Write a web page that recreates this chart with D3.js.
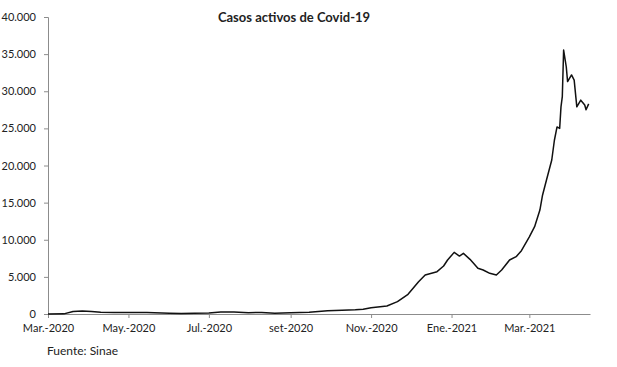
<!DOCTYPE html>
<html>
<head>
<meta charset="utf-8">
<script src="https://cdn.jsdelivr.net/npm/d3@7"></script>
<style>
  body { margin: 0; background: #fff; }
  svg text { font-family: Lato, "Open Sans", sans-serif; fill: #222; }
</style>
</head>
<body>
<script>
// Active cases
const dates = [
  '2020-03-01', '2020-03-13', '2020-03-20', '2020-03-27', '2020-04-03', '2020-04-10',
  '2020-04-20', '2020-05-01', '2020-05-15', '2020-06-01', '2020-06-10', '2020-06-20',
  '2020-07-01', '2020-07-10', '2020-07-20', '2020-07-31', '2020-08-10', '2020-08-20',
  '2020-09-01', '2020-09-15', '2020-09-29', '2020-10-10', '2020-10-20', '2020-10-26',
  '2020-11-01', '2020-11-13', '2020-11-21', '2020-11-29', '2020-12-07', '2020-12-12',
  '2020-12-21', '2020-12-26', '2020-12-29', '2021-01-03', '2021-01-07', '2021-01-10',
  '2021-01-15', '2021-01-21', '2021-01-25', '2021-01-30', '2021-02-04', '2021-02-08',
  '2021-02-14', '2021-02-19', '2021-02-23', '2021-03-01', '2021-03-05', '2021-03-09',
  '2021-03-11', '2021-03-14', '2021-03-18', '2021-03-20', '2021-03-22', '2021-03-24',
  '2021-03-25', '2021-03-26', '2021-03-27', '2021-03-29', '2021-03-30', '2021-04-02',
  '2021-04-04', '2021-04-06', '2021-04-09', '2021-04-12', '2021-04-13', '2021-04-15'
];
const activos = [
  0, 20, 350, 400, 330, 230,
  200, 200, 190, 100, 80, 90,
  120, 270, 260, 180, 200, 100,
  170, 230, 450, 500, 560, 630,
  850, 1080, 1660, 2650, 4350, 5250,
  5700, 6460, 7270, 8300, 7800, 8170,
  7360, 6150, 5930, 5480, 5250, 5930,
  7270, 7720, 8530, 10400, 11760, 14000,
  16000, 18050, 20740, 23400, 25200, 25000,
  27900, 29270, 35550, 33300, 31300, 32200,
  31500, 27900, 28800, 28150, 27500, 28300
];
const yTicks = [0, 5000, 10000, 15000, 20000, 25000, 30000, 35000, 40000];
const xTickDates = ['2020-03-01', '2020-05-01', '2020-07-01', '2020-09-01',
  '2020-11-01', '2021-01-01', '2021-03-01'];
const xTickLabels = ['Mar.-2020', 'May.-2020', 'Jul.-2020', 'set-2020',
  'Nov.-2020', 'Ene.-2021', 'Mar.-2021'];

const W = 617, H = 367;
const parse = d3.timeParse('%Y-%m-%d');
const data = dates.map((d, i) => ({ date: parse(d), v: activos[i] }));

const locale = d3.formatLocale({ decimal: ',', thousands: '.', grouping: [3], currency: ['', ''] });
const fmt = locale.format(',');

const svg = d3.select('body').append('svg').attr('width', W).attr('height', H);

const x = d3.scaleTime()
  .domain([parse('2020-03-01'), parse('2021-04-16')])
  .range([48, 590]);
const y = d3.scaleLinear().domain([0, 40000]).range([314, 17]);

// Title
svg.append('text')
  .attr('x', 294).attr('y', 22)
  .attr('text-anchor', 'middle')
  .style('font-size', '13px').style('font-weight', 'bold')
  .text('Casos activos de Covid-19');

// Y axis
const yAxis = svg.append('g')
  .attr('transform', 'translate(48,0)')
  .call(d3.axisLeft(y).tickValues(yTicks).tickFormat(fmt).tickSize(4).tickPadding(8));
yAxis.selectAll('path, line').attr('stroke', '#8c8c8c');
yAxis.selectAll('text').style('font-size', '11px').style('font-family', 'Lato, sans-serif').attr('fill', '#222');

// X axis
const labelMap = new Map(xTickDates.map((d, i) => [+parse(d), xTickLabels[i]]));
const xAxis = svg.append('g')
  .attr('transform', 'translate(0,314)')
  .call(d3.axisBottom(x)
    .tickValues(xTickDates.map(parse))
    .tickFormat(d => labelMap.get(+d))
    .tickSize(4).tickSizeOuter(0).tickPadding(6));
xAxis.selectAll('path, line').attr('stroke', '#8c8c8c');
xAxis.selectAll('text').style('font-size', '11px').style('font-family', 'Lato, sans-serif').attr('fill', '#222');

// Line
const line = d3.line().x(d => x(d.date)).y(d => y(d.v));
svg.append('path')
  .datum(data)
  .attr('fill', 'none')
  .attr('stroke', '#111')
  .attr('stroke-width', 1.5)
  .attr('stroke-linejoin', 'round')
  .attr('d', line);

// Source
svg.append('text')
  .attr('x', 47).attr('y', 355)
  .style('font-size', '12px')
  .text('Fuente: Sinae');
</script>
</body>
</html>
